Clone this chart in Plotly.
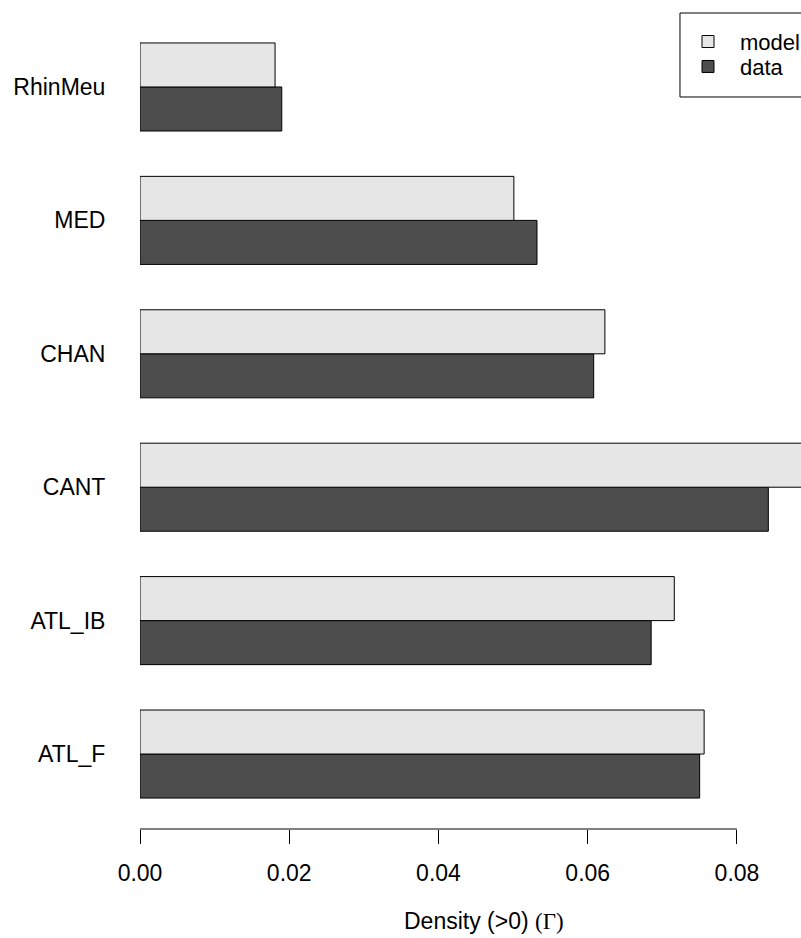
import plotly.graph_objects as go

# Values
regions = ["ATL_F", "ATL_IB", "CANT", "CHAN", "MED", "RhinMeu"]
model = [0.0756, 0.0716, 0.0895, 0.0623, 0.0501, 0.0181]
data = [0.0750, 0.0685, 0.0842, 0.0608, 0.0532, 0.0190]
tick_vals = [0.00, 0.02, 0.04, 0.06, 0.08]
tick_text = ["0.00", "0.02", "0.04", "0.06", "0.08"]

font = "Liberation Sans, Arial, sans-serif"

fig = go.Figure()
# horizontal grouped bars: first trace sits at the bottom of each group
fig.add_trace(go.Bar(
    y=regions, x=data, orientation="h", name="data", legend="legend2",
    marker=dict(color="#4D4D4D", line=dict(color="black", width=1)),
))
fig.add_trace(go.Bar(
    y=regions, x=model, orientation="h", name="model", legend="legend",
    marker=dict(color="#E6E6E6", line=dict(color="black", width=1)),
))

# R style axis line from 0 to 0.08 only
fig.add_shape(type="line", xref="x", yref="paper", x0=0, x1=0.08, y0=0, y1=0,
              line=dict(color="black", width=1))
# legend box (right side runs off the page, as in the original)
fig.add_shape(type="rect", xref="paper", yref="paper",
              x0=0.8169, x1=1.03, y0=0.883, y1=0.9843,
              line=dict(color="black", width=1), fillcolor="rgba(0,0,0,0)")

# x axis title, centred like R does
fig.add_annotation(
    text="Density (>0) <span style='font-family:Liberation Serif'>(Γ)</span>",
    xref="paper", yref="paper", x=0.5204, y=-0.111,
    xanchor="center", yanchor="middle", showarrow=False,
    font=dict(size=23),
)

leg = dict(xanchor="left", yanchor="top", bgcolor="rgba(0,0,0,0)",
           borderwidth=0, font=dict(size=22), itemwidth=54)

fig.update_layout(
    width=801, height=938,
    margin=dict(l=140, r=0, t=0, b=109, autoexpand=False),
    plot_bgcolor="white", paper_bgcolor="white",
    barmode="group", bargap=0.34, bargroupgap=0,
    font=dict(family=font, size=23, color="black"),
    showlegend=True,
    legend=dict(leg, x=0.8109, y=0.975),
    legend2=dict(leg, x=0.8109, y=0.9449),
    xaxis=dict(
        range=[0, 0.08858], tickvals=tick_vals, ticktext=tick_text,
        ticks="outside", ticklen=14, tickcolor="black", tickwidth=1,
        ticklabelstandoff=9,
        showgrid=False, zeroline=False, showline=False,
    ),
    yaxis=dict(
        range=[-0.562, 5.652], showgrid=False, zeroline=False, showline=False,
        ticks="outside", ticklen=0, ticklabelstandoff=29,
    ),
)

# drop the default 8px body margin so the figure fills the window exactly
fig.write_html("out.html", config={"displayModeBar": False},
               post_script="document.body.style.margin='0';")
